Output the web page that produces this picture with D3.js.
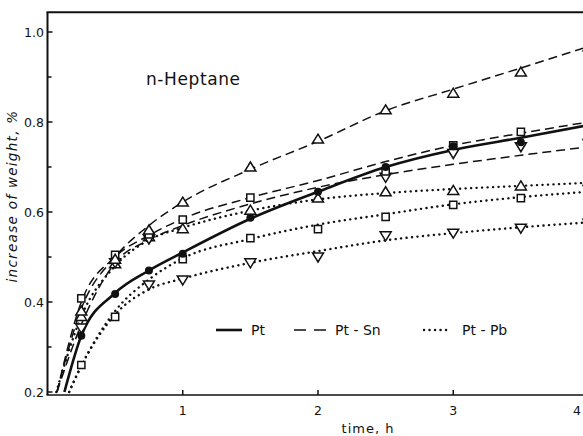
<!DOCTYPE html>
<html>
<head>
<meta charset="utf-8">
<script src="https://cdn.jsdelivr.net/npm/d3@7"></script>
<style>
  html, body { margin: 0; padding: 0; background: #fff; }
  svg { display: block; }
  text { font-family: "DejaVu Sans", sans-serif; fill: #111; }
</style>
</head>
<body>
<svg id="chart" width="583" height="436"></svg>
<script>
// sampling times (h)
const times = [0.25, 0.5, 0.75, 1, 1.5, 2, 2.5, 3, 3.5, 4];

// measured points, aligned with times (null = not plotted)
const ptCircle   = [0.325, 0.418, 0.47, 0.507, 0.587, 0.645, 0.70, 0.746, 0.755, null];
const snTriUp    = [0.38, 0.495, 0.56, 0.622, 0.70, 0.762, 0.827, 0.864, 0.911, 0.967];
const snSquare   = [0.408, 0.505, 0.55, 0.583, 0.632, null, 0.69, 0.748, 0.778, null];
const snTriDown  = [0.342, 0.487, 0.54, null, null, null, 0.677, 0.73, 0.745, 0.752];
const pbTriUp    = [0.368, 0.485, 0.545, 0.563, 0.604, 0.631, 0.645, 0.648, 0.658, 0.668];
const pbSquare   = [0.26, 0.367, null, 0.495, 0.542, 0.562, 0.589, 0.616, 0.631, 0.645];
const pbTriDown  = [null, null, 0.438, 0.449, 0.487, 0.50, 0.547, 0.553, 0.564, 0.575];

// fitted curves [t, value]
const ptCurve = [[0.125,0.2],[0.25,0.325],[0.5,0.42],[0.75,0.47],[1,0.51],[1.5,0.585],[2,0.645],[2.5,0.70],[3,0.738],[3.5,0.765],[4,0.793]];
const snTriUpCurve = [[0.07,0.2],[0.25,0.385],[0.5,0.5],[0.75,0.57],[1,0.622],[1.5,0.695],[2,0.757],[2.5,0.825],[3,0.873],[3.5,0.92],[4,0.968]];
const snSquareCurve = [[0.07,0.2],[0.25,0.40],[0.5,0.50],[0.75,0.548],[1,0.585],[1.5,0.632],[2,0.67],[2.5,0.712],[3,0.748],[3.5,0.775],[4,0.80]];
const snTriDownCurve = [[0.07,0.2],[0.25,0.35],[0.5,0.487],[0.75,0.538],[1,0.57],[1.5,0.618],[2,0.655],[2.5,0.683],[3,0.706],[3.5,0.726],[4,0.745]];
const pbTriUpCurve = [[0.065,0.2],[0.25,0.368],[0.5,0.48],[0.75,0.538],[1,0.565],[1.5,0.603],[2,0.628],[2.5,0.642],[3,0.651],[3.5,0.658],[4,0.665]];
const pbSquareCurve = [[0.16,0.2],[0.25,0.258],[0.5,0.38],[0.75,0.45],[1,0.497],[1.5,0.54],[2,0.572],[2.5,0.595],[3,0.617],[3.5,0.633],[4,0.645]];
const pbTriDownCurve = [[0.16,0.2],[0.25,0.258],[0.5,0.372],[0.75,0.428],[1,0.452],[1.5,0.487],[2,0.513],[2.5,0.537],[3,0.553],[3.5,0.566],[4,0.577]];

// ticks
const xTicks = [1, 2, 3, 4];
const yTicks = [0.2, 0.4, 0.6, 0.8, 1.0];
const yMinor = [0.3, 0.5, 0.7, 0.9];

const legendItems = [
    {label: "Pt", style: "solid"},
    {label: "Pt - Sn", style: "dashed"},
    {label: "Pt - Pb", style: "dotted"}
];

const svg = d3.select("#chart");

const x = d3.scaleLinear().domain([0, 4]).range([47.5, 588.5]);
const y = d3.scaleLinear().domain([0.2, 1.0]).range([392, 32]);

const yTop = y(1.044), yBot = y(0.1933);

svg.append("clipPath").attr("id", "plot")
    .append("rect")
    .attr("x", x(0)).attr("y", yTop)
    .attr("width", 600).attr("height", yBot - yTop);

// line styles
const styles = {
    solid:  {width: 2.6, dash: null, cap: "butt"},
    dashed: {width: 1.5, dash: "9,5", cap: "butt"},
    dotted: {width: 2.4, dash: "0.1,5.4", cap: "round"}
};

const curves = [
    {data: ptCurve, style: "solid"},
    {data: snTriUpCurve, style: "dashed"},
    {data: snSquareCurve, style: "dashed"},
    {data: snTriDownCurve, style: "dashed"},
    {data: pbTriUpCurve, style: "dotted"},
    {data: pbSquareCurve, style: "dotted"},
    {data: pbTriDownCurve, style: "dotted"}
];

const line = d3.line()
    .x(d => x(d[0]))
    .y(d => y(d[1]))
    .curve(d3.curveMonotoneX);

const gCurves = svg.append("g").attr("clip-path", "url(#plot)");
gCurves.selectAll("path")
    .data(curves)
    .join("path")
    .attr("d", d => line(d.data))
    .attr("fill", "none")
    .attr("stroke", "#111")
    .attr("stroke-width", d => styles[d.style].width)
    .attr("stroke-dasharray", d => styles[d.style].dash)
    .attr("stroke-linecap", d => styles[d.style].cap);

// markers
const shapes = {
    up: "M0,-5L5.5,4L-5.5,4Z",
    down: "M0,5L5.5,-4L-5.5,-4Z",
    square: "M-3.6,-3.6H3.6V3.6H-3.6Z"
};

const markerSets = [
    {values: pbTriDown, shape: "down"},
    {values: pbSquare, shape: "square"},
    {values: pbTriUp, shape: "up"},
    {values: snTriDown, shape: "down"},
    {values: snSquare, shape: "square"},
    {values: snTriUp, shape: "up"},
    {values: ptCircle, shape: "circle"}
];

const gMarks = svg.append("g").attr("clip-path", "url(#plot)");
markerSets.forEach(set => {
    const pts = times.map((t, i) => [t, set.values[i]]).filter(d => d[1] != null);
    if (set.shape === "circle") {
        gMarks.append("g").selectAll("circle")
            .data(pts)
            .join("circle")
            .attr("cx", d => x(d[0]))
            .attr("cy", d => y(d[1]))
            .attr("r", 4)
            .attr("fill", "#111");
    } else {
        gMarks.append("g").selectAll("path")
            .data(pts)
            .join("path")
            .attr("transform", d => `translate(${x(d[0])},${y(d[1])})`)
            .attr("d", shapes[set.shape])
            .attr("fill", "#fff")
            .attr("stroke", "#111")
            .attr("stroke-width", 1.5);
    }
});

// frame / axes
const gAx = svg.append("g").attr("stroke", "#111").attr("fill", "none");
gAx.append("line").attr("x1", x(0)).attr("x2", x(0)).attr("y1", yTop).attr("y2", yBot).attr("stroke-width", 2);
gAx.append("line").attr("x1", x(0) - 1).attr("x2", 583).attr("y1", yTop).attr("y2", yTop).attr("stroke-width", 2);
gAx.append("line").attr("x1", x(0) - 1).attr("x2", 583).attr("y1", yBot).attr("y2", yBot).attr("stroke-width", 1.6);

gAx.selectAll(".ytick").data(yTicks).join("line")
    .attr("x1", x(0)).attr("x2", x(0) + 5)
    .attr("y1", d => y(d)).attr("y2", d => y(d)).attr("stroke-width", 1.5);
gAx.selectAll(".yminor").data(yMinor).join("line")
    .attr("x1", x(0)).attr("x2", x(0) + 4)
    .attr("y1", d => y(d)).attr("y2", d => y(d)).attr("stroke-width", 1.5);
gAx.selectAll(".xtick").data(xTicks).join("line")
    .attr("x1", d => x(d)).attr("x2", d => x(d))
    .attr("y1", yBot).attr("y2", yBot - 5).attr("stroke-width", 1.5);

svg.append("g").selectAll("text").data(yTicks).join("text")
    .attr("x", 44).attr("y", d => y(d))
    .attr("dy", "0.36em")
    .attr("text-anchor", "end")
    .style("font-size", "12.5px")
    .text(d => d3.format(".1f")(d));

// the last tick sits at the cropped right edge; keep its label inside the picture
svg.append("g").selectAll("text").data(xTicks).join("text")
    .attr("x", d => Math.min(x(d), 577)).attr("y", 415)
    .attr("text-anchor", "middle")
    .style("font-size", "12.5px")
    .text(d => d);

// titles
svg.append("text")
    .attr("x", 368).attr("y", 433)
    .attr("text-anchor", "middle")
    .style("font-size", "13px")
    .style("letter-spacing", "1px")
    .text("time, h");

svg.append("text")
    .attr("transform", "translate(17,196) rotate(-90)")
    .attr("text-anchor", "middle")
    .style("font-size", "13.5px")
    .style("font-style", "italic")
    .style("letter-spacing", "1.3px")
    .text("increase of weight, %");

svg.append("text")
    .attr("x", 146).attr("y", 85)
    .style("font-size", "17px")
    .style("letter-spacing", "0.6px")
    .text("n-Heptane");

// legend
const legendX = [216, 294, 424];
const legendText = [251, 335, 462];
const gLeg = svg.append("g");
legendItems.forEach((item, i) => {
    const st = styles[item.style];
    gLeg.append("line")
        .attr("x1", legendX[i]).attr("x2", legendX[i] + (item.style === "dashed" ? 32 : 26))
        .attr("y1", 330).attr("y2", 330)
        .attr("stroke", "#111")
        .attr("stroke-width", st.width)
        .attr("stroke-dasharray", item.style === "dashed" ? "12,8" : st.dash)
        .attr("stroke-linecap", st.cap);
    gLeg.append("text")
        .attr("x", legendText[i]).attr("y", 335)
        .style("font-size", "14px")
        .text(item.label);
});
</script>
</body>
</html>
